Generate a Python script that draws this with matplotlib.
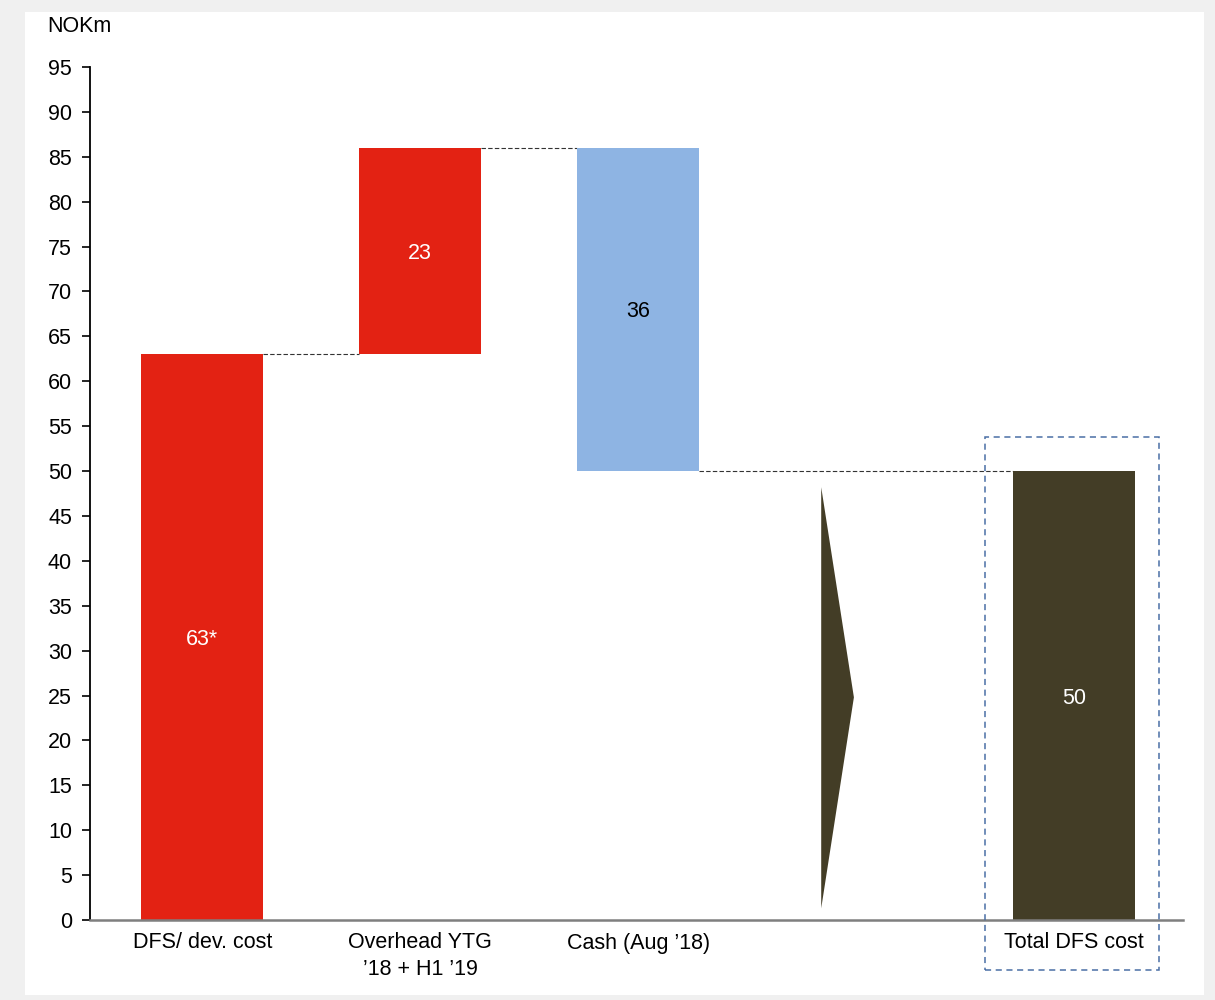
import matplotlib.pyplot as plt
from matplotlib.patches import Polygon, Rectangle

plt.rcParams["font.family"] = ["Liberation Sans", "DejaVu Sans"]

# waterfall steps, NOKm
categories = ["DFS/ dev. cost", "Overhead YTG\n\u201918 + H1 \u201919", "Cash (Aug \u201918)", "", "Total DFS cost"]
bottoms = [0, 63, 50, 0, 0]
heights = [63, 23, 36, 0, 50]
value_labels = ["63*", "23", "36", "", "50"]
label_colors = ["white", "white", "black", "white", "white"]
bar_colors = ["#E32213", "#E32213", "#8EB4E3", "none", "#433D26"]

OLIVE = "#433D26"
FS = 15.5

fig = plt.figure(figsize=(12.15, 10), dpi=100, facecolor="#f0f0f0")
# white panel behind the chart
fig.add_artist(Rectangle((25 / 1215, 0.005), 1179 / 1215, 0.983,
                         transform=fig.transFigure, facecolor="white",
                         edgecolor="none", zorder=-5))

ax = fig.add_axes([90 / 1215, 0.08, 1093 / 1215, 0.853])
ax.set_facecolor("none")

x = list(range(len(categories)))
width = 0.56
for i in x:
    if heights[i] == 0:
        continue
    ax.bar(i, heights[i], bottom=bottoms[i], width=width, color=bar_colors[i],
           zorder=2)
    ax.text(i, bottoms[i] + heights[i] / 2, value_labels[i], ha="center",
            va="center_baseline", fontsize=FS, color=label_colors[i], zorder=3)

# dashed connectors between steps
connectors = [(0, 1, 63), (1, 2, 86), (2, 4, 50)]
for a, b, level in connectors:
    ax.plot([a + width / 2, b - width / 2], [level, level], color="#333333",
            linestyle=(0, (4, 2)), linewidth=0.8, zorder=1)

# arrow pointing to the total
ax.add_patch(Polygon([(2.84, 48.2), (2.99, 24.8), (2.84, 1.3)],
                     closed=True, facecolor=OLIVE, edgecolor="none", zorder=2))

# dashed highlight around the total
ax.add_patch(Rectangle((3.59, -5.6), 0.80, 59.4, fill=False,
                       edgecolor="#4A6FA5", linestyle=(0, (4, 3)),
                       linewidth=1.1, clip_on=False, zorder=3))

ax.set_xlim(-0.515, 4.5)
ax.set_ylim(0, 95)
ax.set_yticks(range(0, 96, 5))
ax.set_xticks(x)
ax.set_xticklabels(categories, fontsize=FS, linespacing=1.35)
ax.tick_params(axis="x", length=0, pad=9)
ax.tick_params(axis="y", length=6, width=1.2, labelsize=FS, pad=7,
               direction="out")

for side in ("top", "right"):
    ax.spines[side].set_visible(False)
ax.spines["left"].set_linewidth(1.3)
ax.spines["left"].set_color("black")
ax.spines["bottom"].set_linewidth(1.8)
ax.spines["bottom"].set_color("#7f7f7f")

fig.text(47 / 1215, 1 - 27 / 1000, "NOKm", fontsize=FS, ha="left",
         va="center")

fig.savefig("out.png", dpi=100, facecolor=fig.get_facecolor())
